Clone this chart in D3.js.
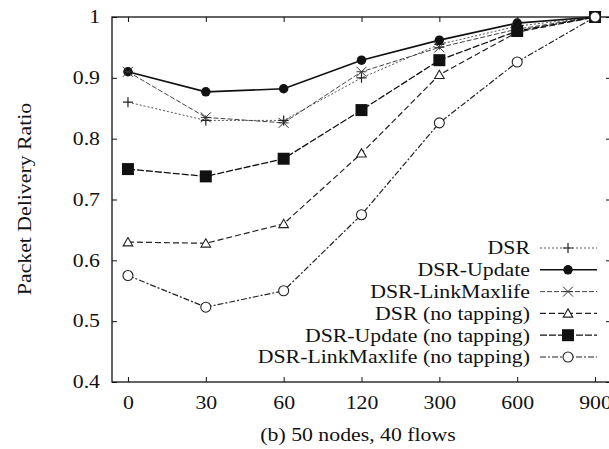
<!DOCTYPE html>
<html>
<head>
<meta charset="utf-8">
<script src="https://cdn.jsdelivr.net/npm/d3@7"></script>
<style>
body { margin: 0; background: #fff; }
text { font-family: "Liberation Serif", "DejaVu Serif", serif; fill: #111; }
</style>
</head>
<body>
<div id="chart"></div>
<script>
// pause times (categories on x)
var pauseTimes = ['0', '30', '60', '120', '300', '600', '900'];
var yTicks = [0.4, 0.5, 0.6, 0.7, 0.8, 0.9, 1];

var dsr = [0.86, 0.830, 0.830, 0.900, 0.955, 0.985, 1.0];
var dsrUpdate = [0.910, 0.877, 0.882, 0.929, 0.962, 0.990, 1.0];
var dsrLinkMaxlife = [0.910, 0.835, 0.826, 0.910, 0.950, 0.980, 1.0];
var dsrNoTap = [0.630, 0.628, 0.660, 0.776, 0.905, 0.975, 1.0];
var dsrUpdateNoTap = [0.750, 0.738, 0.767, 0.847, 0.929, 0.977, 1.0];
var dsrLinkMaxlifeNoTap = [0.575, 0.523, 0.550, 0.675, 0.826, 0.926, 1.0];

var seriesNames = ['DSR', 'DSR-Update', 'DSR-LinkMaxlife', 'DSR (no tapping)',
	'DSR-Update (no tapping)', 'DSR-LinkMaxlife (no tapping)'];

var series = [
	{name: seriesNames[0], values: dsr, marker: 'plus', dash: '2,2', width: 1, color: '#555'},
	{name: seriesNames[1], values: dsrUpdate, marker: 'diamond', dash: null, width: 1.6, color: '#111'},
	{name: seriesNames[2], values: dsrLinkMaxlife, marker: 'cross', dash: '5,2', width: 1, color: '#444'},
	{name: seriesNames[3], values: dsrNoTap, marker: 'triangle', dash: '6,3', width: 1.2, color: '#222'},
	{name: seriesNames[4], values: dsrUpdateNoTap, marker: 'square', dash: '7,2', width: 1.3, color: '#111'},
	{name: seriesNames[5], values: dsrLinkMaxlifeNoTap, marker: 'circle', dash: '6,2,2,2', width: 1.2, color: '#222'}
];

var W = 609, H = 449;
var frame = {left: 112, right: 611, top: 17, bottom: 382};
var FS = 18;        // font size
var STRETCH = 1.21; // scanned serif text is wider than Liberation Serif

var svg = d3.select('#chart').append('svg')
	.attr('width', W)
	.attr('height', H);

var x = d3.scalePoint()
	.domain(pauseTimes)
	.range([frame.left, frame.right])
	.padding(0.205);

var y = d3.scaleLinear()
	.domain([0.4, 1])
	.range([frame.bottom, frame.top]);

//frame
svg.append('rect')
	.attr('x', frame.left)
	.attr('y', frame.top)
	.attr('width', frame.right - frame.left)
	.attr('height', frame.bottom - frame.top)
	.attr('fill', 'none')
	.attr('stroke', '#111')
	.attr('stroke-width', 1.3);

//axes with inward ticks, mirrored
svg.append('g')
	.attr('transform', 'translate(0,' + frame.bottom + ')')
	.call(d3.axisBottom(x).tickSizeInner(-5).tickSizeOuter(0).tickPadding(14))
	.call(function(g){ g.select('.domain').remove(); });

svg.append('g')
	.attr('transform', 'translate(0,' + frame.top + ')')
	.call(d3.axisTop(x).tickSizeInner(-5).tickSizeOuter(0).tickFormat(''))
	.call(function(g){ g.select('.domain').remove(); });

svg.append('g')
	.attr('transform', 'translate(' + frame.left + ',0)')
	.call(d3.axisLeft(y).tickValues(yTicks).tickSizeInner(-5).tickSizeOuter(0).tickPadding(12)
		.tickFormat(function(d){ return d === 1 ? '1' : d3.format('.1f')(d); }))
	.call(function(g){ g.select('.domain').remove(); });

svg.append('g')
	.attr('transform', 'translate(' + frame.right + ',0)')
	.call(d3.axisRight(y).tickValues(yTicks).tickSizeInner(-5).tickSizeOuter(0).tickFormat(''))
	.call(function(g){ g.select('.domain').remove(); });

svg.selectAll('.tick line').attr('stroke', '#111');
svg.selectAll('.tick text')
	.attr('font-family', '"Liberation Serif", serif')
	.attr('font-size', FS)
	.attr('fill', '#111');

//axis titles
svg.append('text')
	.attr('x', 358)
	.attr('y', 441)
	.attr('text-anchor', 'middle')
	.attr('font-size', FS)
	.text('(b) 50 nodes, 40 flows');

svg.append('text')
	.attr('transform', 'translate(31,199) rotate(-90)')
	.attr('text-anchor', 'middle')
	.attr('font-size', FS)
	.text('Packet Delivery Ratio');

//marker drawing
function drawMarker(g, type, cx, cy){
	var s = 5;
	if(type === 'plus'){
		g.append('path').attr('d', 'M' + (cx - s) + ',' + cy + 'H' + (cx + s) + 'M' + cx + ',' + (cy - s) + 'V' + (cy + s))
			.attr('stroke', '#222').attr('stroke-width', 1.2);
	}else if(type === 'cross'){
		g.append('path').attr('d', 'M' + (cx - s) + ',' + (cy - s) + 'L' + (cx + s) + ',' + (cy + s) + 'M' + (cx - s) + ',' + (cy + s) + 'L' + (cx + s) + ',' + (cy - s) + 'M' + (cx - s) + ',' + cy + 'H' + (cx + s))
			.attr('stroke', '#333').attr('stroke-width', 1);
	}else if(type === 'diamond'){
		g.append('path').attr('d', d3.symbol(d3.symbolCircle, 70)()).attr('transform', 'translate(' + cx + ',' + cy + ')')
			.attr('fill', '#111');
	}else if(type === 'square'){
		g.append('rect').attr('x', cx - 6).attr('y', cy - 6).attr('width', 12).attr('height', 12).attr('fill', '#111');
	}else if(type === 'triangle'){
		g.append('path').attr('d', d3.symbol(d3.symbolTriangle, 40)()).attr('transform', 'translate(' + cx + ',' + (cy + 1) + ')')
			.attr('fill', '#fff').attr('stroke', '#222').attr('stroke-width', 1.1);
	}else if(type === 'circle'){
		g.append('circle').attr('cx', cx).attr('cy', cy).attr('r', 5)
			.attr('fill', '#fff').attr('stroke', '#222').attr('stroke-width', 1.1);
	}
}

var line = d3.line()
	.x(function(d, i){ return x(pauseTimes[i]); })
	.y(function(d){ return y(d); });

var plot = svg.append('g');

series.forEach(function(s){
	plot.append('path')
		.datum(s.values)
		.attr('d', line)
		.attr('fill', 'none')
		.attr('stroke', s.color)
		.attr('stroke-width', s.width)
		.attr('stroke-dasharray', s.dash);
});

series.forEach(function(s){
	var g = plot.append('g');
	s.values.forEach(function(v, i){
		drawMarker(g, s.marker, x(pauseTimes[i]), y(v));
	});
});

//legend
var legend = svg.append('g');
var legendTop = 248, legendStep = 21.8;
series.forEach(function(s, i){
	var ly = legendTop + i * legendStep;
	legend.append('text')
		.attr('x', 530)
		.attr('y', ly)
		.attr('dy', '0.35em')
		.attr('text-anchor', 'end')
		.attr('font-size', FS)
		.text(s.name);
	legend.append('line')
		.attr('x1', 540).attr('x2', 597)
		.attr('y1', ly).attr('y2', ly)
		.attr('stroke', s.color)
		.attr('stroke-width', s.width)
		.attr('stroke-dasharray', s.dash);
	drawMarker(legend, s.marker, 568, ly);
});

//widen all text to match the reference proportions
svg.selectAll('text').each(function(){
	var w = this.getComputedTextLength();
	d3.select(this)
		.attr('textLength', w * STRETCH)
		.attr('lengthAdjust', 'spacingAndGlyphs');
});
</script>
</body>
</html>
